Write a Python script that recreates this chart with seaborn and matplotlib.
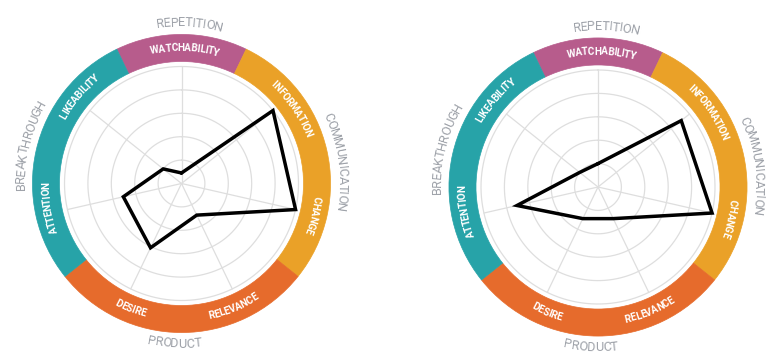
import matplotlib
matplotlib.use("Agg")
import matplotlib.pyplot as plt
import seaborn as sns
import numpy as np

# data
categories = ["WATCHABILITY", "INFORMATION", "CHANGE", "RELEVANCE",
              "DESIRE", "ATTENTION", "LIKEABILITY"]
category_group = ["REPETITION", "COMMUNICATION", "COMMUNICATION", "PRODUCT",
                  "PRODUCT", "BREAKTHROUGH", "BREAKTHROUGH"]
groups = ["REPETITION", "COMMUNICATION", "PRODUCT", "BREAKTHROUGH"]
group_colors = ["#b75c8c", "#eaa128", "#e66b2c", "#27a3a8"]
scores_left = [9, 100, 100, 30, 61, 51, 20]
scores_right = [20, 91, 100, 30, 30, 71, 20]
grid_levels = [20, 40, 60, 80, 100]

# layout (pixels)
W, H = 778, 364
PX = 1.17          # pixels per score unit
R_MAX = 150        # radius of polar axes in score units
BAND_IN, BAND_OUT = 104.3, 127.4
INNER_R, OUTER_R = 115.8, 137.2
centers = [(181.5, 183.5), (598, 187)]
inner_shift = [1.5, 4.5, 0.6, 3.0, -3.5, 2.4, 1.8]
outer_shift = [3.0, 5.0, 2.5, 1.3]

sns.set_theme(style="white")
plt.rcParams["font.family"] = ["Roboto", "DejaVu Sans"]

fig = plt.figure(figsize=(W / 100, H / 100), dpi=100)
renderer = fig.canvas.get_renderer()

n = len(categories)
slot = 360 / n


def curved_text(ax, label, theta, r, flip, track=1.0, **kw):
    r_px = r * PX
    # cumulative widths of prefixes -> char centers
    cum = [0.0]
    for i in range(1, len(label) + 1):
        t = ax.text(0, 0, label[:i], **kw)
        cum.append(t.get_window_extent(renderer).width)
        t.remove()
    total = cum[-1]
    for i, ch in enumerate(label):
        s = ((cum[i] + cum[i + 1]) / 2 - total / 2) * track
        d = np.degrees(s / r_px)
        th = theta - d if flip else theta + d
        rot = 180 - th if flip else -th
        ax.text(np.radians(th), r, ch, rotation=rot, rotation_mode="anchor",
                ha="center", va="center", **kw)


def draw_chart(ax, scores):
    ax.set_theta_zero_location("N")
    ax.set_theta_direction(-1)
    ax.set_ylim(0, R_MAX)
    ax.axis("off")

    theta = np.radians(np.arange(n) * slot)
    circ = np.linspace(0, 2 * np.pi, 300)
    for lv in grid_levels:
        ax.plot(circ, np.full_like(circ, lv), color="#dedede", lw=0.9, zorder=1)
    for th in theta:
        ax.plot([th, th], [0, grid_levels[-1]], color="#dedede", lw=0.9, zorder=1)

    # outer coloured band, one bar per group
    for g, col, sh in zip(groups, group_colors, outer_shift):
        idx = [i for i, c in enumerate(category_group) if c == g]
        start = (idx[0] - 0.5) * slot
        span = len(idx) * slot
        ax.bar(np.radians(start + span / 2), BAND_OUT - BAND_IN,
               width=np.radians(span), bottom=BAND_IN, color=col,
               edgecolor=col, lw=0.5, zorder=2)
        mid = start + span / 2 + sh
        flip = 100 < (mid % 360) < 260
        curved_text(ax, g, mid, OUTER_R, flip, track=0.95,
                    color="#9ea2a9", fontsize=9.2)

    for i, cat in enumerate(categories):
        mid = i * slot + inner_shift[i]
        flip = 110 < (mid % 360) < 250
        curved_text(ax, cat, mid, INNER_R, flip, track=0.96, color="white",
                    fontsize=7.2, fontweight="bold", zorder=3)

    vals = list(scores) + [scores[0]]
    angs = list(theta) + [theta[0]]
    sns.lineplot(x=angs, y=vals, ax=ax, sort=False, estimator=None,
                 color="black", lw=2.5, zorder=4)
    ax.lines[-1].set_solid_joinstyle("miter")


for (cx, cy), scores in zip(centers, [scores_left, scores_right]):
    size = R_MAX * PX
    ax = fig.add_axes([(cx - size) / W, (H - cy - size) / H,
                       2 * size / W, 2 * size / H], projection="polar")
    draw_chart(ax, scores)

fig.savefig("out.png", dpi=100)
